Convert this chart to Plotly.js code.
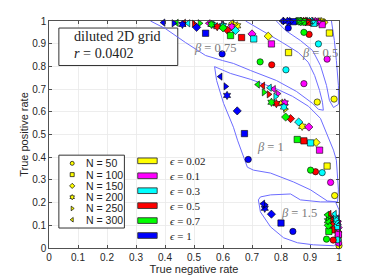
<!DOCTYPE html>
<html><head><meta charset="utf-8">
<script src="https://cdn.plot.ly/plotly-3.0.1.min.js"></script>
<style>html,body{margin:0;padding:0;background:#fff}#c{width:374px;height:280px}</style>
</head><body><div id="c"></div>
<script>
// ---- data ----
const Ns = [50, 100, 150, 200, 250, 300];
const nSymbols = ['circle', 'square', 'diamond', 'hexagram', 'triangle-right', 'triangle-left'];
const epsLabels = ['0.02', '0.1', '0.3', '0.5', '0.7', '1'];
const epsColors = ['#ffff00', '#ff00ff', '#00ffff', '#ff0000', '#00ff00', '#0000ff'];
const betaLabels = ['0.5', '0.75', '1', '1.5'];

// rows: epsilon (0.02,0.1,0.3,0.5,0.7,1); columns: N (50..300)
const tnr_b050 = [
  [0.983,0.967,0.948,0.940,0.935,0.930],
  [0.959,0.942,0.925,0.918,0.912,0.905],
  [0.929,0.913,0.905,0.898,0.892,0.886],
  [0.897,0.893,0.885,0.878,0.872,0.866],
  [0.879,0.876,0.868,0.862,0.857,0.852],
  [0.825,0.842,0.830,0.822,0.812,0.804]];
const tpr_b050 = [
  [0.656,0.947,0.994,0.997,0.998,0.999],
  [0.832,0.984,0.996,0.998,0.999,1.000],
  [0.899,0.990,0.997,0.998,0.999,1.000],
  [0.941,0.995,0.998,0.999,1.000,1.000],
  [0.950,0.996,0.998,0.999,1.000,1.000],
  [0.969,0.997,0.998,0.999,1.000,1.000]];
const tnr_b075 = [
  [0.925,0.826,0.756,0.649,0.640,0.630],
  [0.879,0.767,0.700,0.630,0.600,0.550],
  [0.817,0.706,0.643,0.600,0.570,0.480],
  [0.768,0.664,0.615,0.580,0.500,0.465],
  [0.728,0.626,0.600,0.560,0.520,0.440],
  [0.597,0.540,0.509,0.460,0.430,0.394]];
const tpr_b075 = [
  [0.643,0.861,0.933,0.979,0.985,0.990],
  [0.724,0.899,0.943,0.975,0.985,0.990],
  [0.785,0.921,0.958,0.980,0.985,0.990],
  [0.807,0.927,0.960,0.975,0.988,0.992],
  [0.820,0.936,0.970,0.985,0.990,0.992],
  [0.855,0.946,0.972,0.985,0.990,0.993]];
const tnr_b100 = [
  [0.985,0.959,0.921,0.873,0.815,0.800],
  [0.971,0.933,0.896,0.813,0.789,0.775],
  [0.942,0.902,0.861,0.810,0.781,0.761],
  [0.919,0.879,0.833,0.784,0.758,0.738],
  [0.902,0.856,0.816,0.767,0.741,0.720],
  [0.687,0.674,0.649,0.614,0.609,0.591]];
const tpr_b100 = [
  [0.231,0.361,0.465,0.536,0.612,0.640],
  [0.289,0.431,0.533,0.639,0.680,0.700],
  [0.332,0.463,0.555,0.621,0.667,0.706],
  [0.336,0.472,0.570,0.636,0.677,0.715],
  [0.343,0.478,0.577,0.642,0.686,0.720],
  [0.390,0.504,0.604,0.672,0.712,0.755]];
const tnr_b150 = [
  [1.000,0.997,0.996,0.995,0.994,0.993],
  [0.999,0.998,0.997,0.996,0.995,0.994],
  [0.996,0.994,0.990,0.988,0.986,0.985],
  [0.980,0.975,0.972,0.970,0.968,0.967],
  [0.957,0.965,0.963,0.962,0.962,0.959],
  [0.841,0.800,0.767,0.744,0.745,0.738]];
const tpr_b150 = [
  [0.010,0.045,0.070,0.080,0.090,0.100],
  [0.022,0.060,0.090,0.110,0.120,0.130],
  [0.036,0.095,0.120,0.130,0.140,0.150],
  [0.035,0.080,0.105,0.125,0.140,0.150],
  [0.039,0.073,0.100,0.120,0.135,0.146],
  [0.073,0.110,0.149,0.175,0.190,0.195]];

// contour outlines (TNR, TPR) per beta
const contour_b050_x = [0.784,0.816,0.867,0.909,0.936,0.957,0.967,0.981,0.998,0.998,0.991,0.984,0.974];
const contour_b050_y = [1.000,0.958,0.914,0.870,0.804,0.716,0.650,0.619,0.633,0.716,0.826,0.914,1.000];
const contour_b075_x = [0.678,0.736,0.805,0.860,0.894,0.916,0.933,0.943,0.946,0.929,0.909,0.853,0.784,0.695,0.636,0.598,0.540,0.471,0.402,0.350];
const contour_b075_y = [1.000,0.958,0.905,0.861,0.818,0.760,0.694,0.642,0.607,0.611,0.637,0.690,0.738,0.782,0.813,0.826,0.848,0.905,0.966,1.000];
const contour_b100_x = [0.571,0.578,0.602,0.636,0.650,0.671,0.684,0.705,0.764,0.843,0.902,0.960,0.995,0.998,0.991,0.981,0.964,0.947,0.936,0.895,0.840,0.781,0.695,0.626,0.571];
const contour_b100_y = [0.799,0.738,0.637,0.532,0.475,0.400,0.356,0.343,0.330,0.291,0.256,0.207,0.203,0.256,0.387,0.431,0.484,0.541,0.571,0.624,0.668,0.703,0.743,0.769,0.799];
const contour_b150_x = [0.722,0.729,0.764,0.809,0.857,0.912,0.981,1.000,1.000,0.988,0.936,0.867,0.833,0.764,0.729,0.722];
const contour_b150_y = [0.212,0.159,0.093,0.045,0.023,0.014,0.010,0.023,0.168,0.203,0.203,0.212,0.238,0.234,0.225,0.212];

// ---- traces ----
const traces = [];
const contoursX = [contour_b050_x, contour_b075_x, contour_b100_x, contour_b150_x];
const contoursY = [contour_b050_y, contour_b075_y, contour_b100_y, contour_b150_y];
for (let b = 0; b < 4; b++) {
  traces.push({type:'scatter', mode:'lines', x: contoursX[b], y: contoursY[b],
    line:{color:'#6d6dff', width:1}, hoverinfo:'skip', showlegend:false});
}
const tnrAll = [tnr_b050, tnr_b075, tnr_b100, tnr_b150];
const tprAll = [tpr_b050, tpr_b075, tpr_b100, tpr_b150];
for (let e = 0; e < epsLabels.length; e++) {
  const xs = [], ys = [], syms = [];
  for (let b = 0; b < 4; b++) {
    for (let n = 0; n < Ns.length; n++) {
      xs.push(tnrAll[b][e][n]); ys.push(tprAll[b][e][n]); syms.push(nSymbols[n]);
    }
  }
  traces.push({type:'scatter', mode:'markers', x: xs, y: ys, cliponaxis:false,
    marker:{symbol: syms, size: 6.3, color: epsColors[e], line:{color:'#000', width:0.6}},
    showlegend:false});
}

// ---- custom legends (layout) ----
const shapes = [];
const annotations = [];
// info box
shapes.push({type:'rect', xref:'x', yref:'y', x0:0.034, x1:0.444, y0:0.804, y1:0.969,
  line:{color:'#333', width:1}, fillcolor:'#fff', layer:'between'});
annotations.push({xref:'x', yref:'y', x:0.080, y:0.933, xanchor:'left', yanchor:'middle', showarrow:false,
  text:'diluted 2D grid', font:{family:'Liberation Serif, serif', size:14.2, color:'#222'}});
annotations.push({xref:'x', yref:'y', x:0.080, y:0.860, xanchor:'left', yanchor:'middle', showarrow:false,
  text:'<i>r</i> = 0.0402', font:{family:'Liberation Serif, serif', size:14.2, color:'#222'}});
// N legend
shapes.push({type:'rect', xref:'x', yref:'y', x0:0.034, x1:0.260, y0:0.088, y1:0.409,
  line:{color:'#333', width:1}, fillcolor:'#fff', layer:'between'});
const nRow0 = 0.373, nStep = 0.0497;
const legX = [], legY = [];
for (let n = 0; n < Ns.length; n++) {
  legX.push(0.080); legY.push(nRow0 - n * nStep);
  annotations.push({xref:'x', yref:'y', x:0.120, y:nRow0 - n * nStep, xanchor:'left', yanchor:'middle',
    showarrow:false, text:'N = ' + Ns[n], font:{family:'Liberation Sans, Arial, sans-serif', size:10.5, color:'#222'}});
}
traces.push({type:'scatter', mode:'markers', x: legX, y: legY, cliponaxis:false, hoverinfo:'skip',
  marker:{symbol: nSymbols, size:4, color:'#ffff00', line:{color:'#000', width:0.7}}, showlegend:false});
// epsilon legend
const eRow0 = 0.384, eStep = 0.0658;
for (let e = 0; e < epsLabels.length; e++) {
  const yc = eRow0 - e * eStep;
  shapes.push({type:'rect', xref:'x', yref:'y', x0:0.306, x1:0.373, y0:yc - 0.0125, y1:yc + 0.0125,
    line:{color:'#333', width:0.9}, fillcolor: epsColors[e], layer:'above'});
  annotations.push({xref:'x', yref:'y', x:0.410, y:yc, xanchor:'left', yanchor:'middle', showarrow:false,
    text:'<i>ϵ</i> = ' + epsLabels[e], font:{family:'Liberation Serif, serif', size:11, color:'#222'}});
}
// beta labels
const betaPos = [[0.936,0.861],[0.574,0.883],[0.764,0.446],[0.861,0.154]];
for (let b = 0; b < 4; b++) {
  annotations.push({xref:'x', yref:'y', x:betaPos[b][0], y:betaPos[b][1], showarrow:false,
    text:'<i>β</i> = ' + betaLabels[b], font:{family:'Liberation Serif, serif', size:12.5, color:'#7a7a7a'}});
}

const axisCommon = {range:[0,1], dtick:0.1, tick0:0, ticks:'inside', ticklen:3, tickwidth:0.8,
  tickcolor:'#262626', showline:true, linecolor:'#262626', linewidth:0.8, mirror:'ticks',
  showgrid:true, gridcolor:'#e8e8e8', gridwidth:0.8, zeroline:false,
  tickfont:{family:'Liberation Sans, Arial, sans-serif', size:10, color:'#262626'}, fixedrange:true};

const layout = {
  width:374, height:280, margin:{l:48.5, r:35, t:21, b:32},
  paper_bgcolor:'#fff', plot_bgcolor:'#fff', showlegend:false,
  xaxis: Object.assign({}, axisCommon, {title:{text:'True negative rate', standoff:2,
    font:{family:'Liberation Sans, Arial, sans-serif', size:11, color:'#262626'}}}),
  yaxis: Object.assign({}, axisCommon, {title:{text:'True positive rate', standoff:1,
    font:{family:'Liberation Sans, Arial, sans-serif', size:11, color:'#262626'}}}),
  shapes: shapes, annotations: annotations
};
Plotly.newPlot('c', traces, layout, {staticPlot:true, displayModeBar:false});
</script></body></html>
